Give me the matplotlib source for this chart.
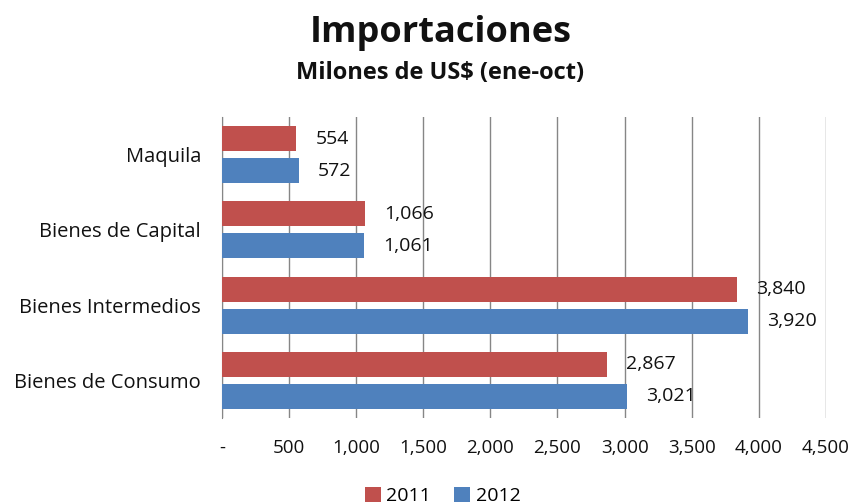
import numpy as np
import matplotlib.pyplot as plt
from matplotlib.ticker import FuncFormatter

plt.rcParams['font.family'] = ['Open Sans', 'DejaVu Sans']

categories = ["Maquila", "Bienes de Capital", "Bienes Intermedios", "Bienes de Consumo"]
v2011 = [554, 1066, 3840, 2867]
v2012 = [572, 1061, 3920, 3021]

red = "#C0504D"
blue = "#4F81BD"
txt = "#111111"

fig = plt.figure(figsize=(8.55, 5.04), dpi=100)
ax = fig.add_axes([0.2596, 0.1706, 0.7064, 0.5973])

y = np.arange(len(categories))
h = 0.333
off = 0.213
b1 = ax.barh(y - off, v2011, height=h, color=red, label="2011", zorder=3)
b2 = ax.barh(y + off, v2012, height=h, color=blue, label="2012", zorder=3)

# value labels just past the end of each bar
for bars, vals in ((b1, v2011), (b2, v2012)):
    for b, v in zip(bars, vals):
        ax.annotate(f"{v:,}", (v, b.get_y() + b.get_height() / 2),
                    xytext=(19, 0), textcoords="offset pixels",
                    va="center", ha="left", fontsize=14, color=txt)

ax.set_ylim(len(categories) - 0.5, -0.5)
ax.set_xlim(0, 4500)
ax.set_xticks(np.arange(0, 4501, 500))
ax.xaxis.set_major_formatter(FuncFormatter(lambda x, p: "-" if x == 0 else f"{int(x):,}"))
ax.set_yticks(y)
ax.set_yticklabels(categories)

ax.grid(axis="x", color="#868686", linewidth=1, zorder=0)
for s in ("top", "right", "bottom"):
    ax.spines[s].set_visible(False)
ax.spines["left"].set_color("#868686")
ax.tick_params(axis="x", length=0, pad=15, labelsize=13.5, colors=txt)
ax.tick_params(axis="y", length=0, pad=15, labelsize=14.5, colors=txt)

fig.text(0.515, 0.935, "Importaciones", ha="center", va="center",
         fontsize=26, fontweight="bold", color="#111111")
fig.text(0.515, 0.855, "Milones de US$ (ene-oct)", ha="center", va="center",
         fontsize=17, fontweight="bold", color="#111111")

fig.legend(handles=[b1, b2], loc="center", bbox_to_anchor=(0.518, 0.016),
           ncol=2, frameon=False, fontsize=14, handlelength=0.8, handleheight=0.8,
           handletextpad=0.3, columnspacing=1.2)

fig.savefig("out.png", dpi=100)
